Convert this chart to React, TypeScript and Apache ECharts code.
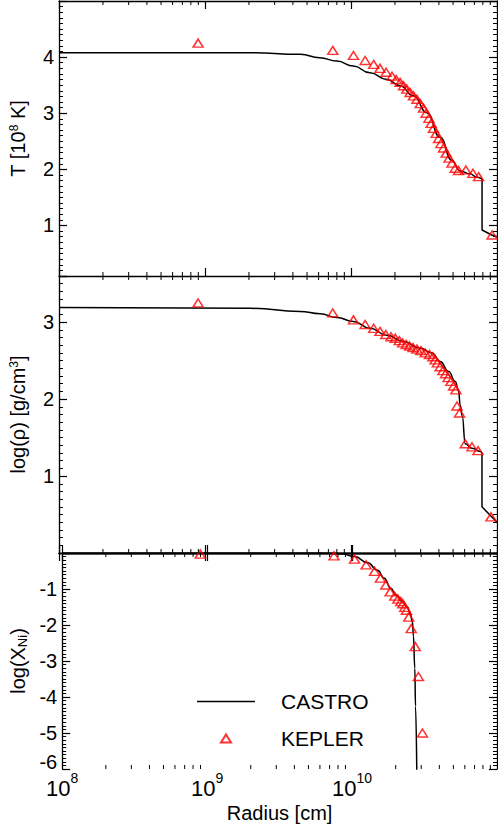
import React, { useEffect, useRef } from 'react';
import * as echarts from 'echarts';

// ---------- data ----------
// CASTRO temperature profile (10^8 K): smooth part, then the outer step
const castroTRadius = [1e8, 2.0e9, 4.5e9, 6.1e9, 8.0e9, 1.04e10, 1.35e10, 1.76e10, 2.17e10, 2.68e10, 3.31e10, 4.08e10, 4.91e10, 5.6e10, 6.5e10, 7.3e10, 7.9e10];
const castroT = [4.08, 4.08, 4.05, 3.99, 3.93, 3.84, 3.72, 3.6, 3.49, 3.31, 3.01, 2.57, 2.16, 1.97, 1.92, 1.86, 1.83];
const castroTStepRadius = [7.9e10, 7.9e10, 9.2e10, 1e11];
const castroTStep = [1.83, 0.92, 0.83, 0.8];

// KEPLER temperature points
const keplerTRadius = [8.97e8, 7.5e9, 1.04e10, 1.25e10, 1.43e10, 1.58e10, 1.74e10, 1.91e10, 2.04e10, 2.17e10, 2.29e10, 2.41e10, 2.54e10, 2.68e10, 2.83e10, 2.98e10, 3.14e10, 3.27e10, 3.42e10, 3.54e10, 3.67e10, 3.83e10, 3.98e10, 4.13e10, 4.3e10, 4.49e10, 4.69e10, 4.91e10, 5.17e10, 5.45e10, 6.12e10, 6.84e10, 7.48e10, 9.25e10];
const keplerT = [4.25, 4.12, 4.03, 3.94, 3.87, 3.8, 3.73, 3.66, 3.6, 3.55, 3.49, 3.43, 3.37, 3.31, 3.25, 3.17, 3.09, 3.0, 2.91, 2.82, 2.73, 2.64, 2.55, 2.46, 2.38, 2.29, 2.2, 2.11, 2.02, 1.98, 1.99, 1.93, 1.87, 0.83];

// CASTRO density profile log(rho): smooth part, then the outer step
const castroRhoRadius = [1e8, 2.03e9, 4.48e9, 6.14e9, 8.0e9, 1.04e10, 1.35e10, 1.76e10, 2.29e10, 2.98e10, 3.58e10, 4.08e10, 4.66e10, 5.18e10, 5.45e10, 5.6e10, 5.78e10, 6.06e10, 6.74e10, 7.69e10, 7.89e10];
const castroRho = [3.19, 3.18, 3.14, 3.11, 3.06, 3.01, 2.92, 2.83, 2.75, 2.66, 2.6, 2.49, 2.36, 2.23, 2.11, 1.92, 1.78, 1.42, 1.36, 1.32, 1.3];
const castroRhoStepRadius = [7.89e10, 7.89e10, 1e11];
const castroRhoStep = [1.3, 0.6, 0.4];

// KEPLER density points
const keplerRhoRadius = [8.97e8, 7.5e9, 1.04e10, 1.25e10, 1.43e10, 1.58e10, 1.73e10, 1.88e10, 2.01e10, 2.14e10, 2.26e10, 2.39e10, 2.52e10, 2.66e10, 2.83e10, 3.01e10, 3.22e10, 3.45e10, 3.64e10, 3.77e10, 3.91e10, 4.08e10, 4.26e10, 4.44e10, 4.63e10, 4.83e10, 5.04e10, 5.23e10, 5.32e10, 5.54e10, 6.06e10, 6.74e10, 7.41e10, 9.1e10];
const keplerRho = [3.25, 3.12, 3.03, 2.97, 2.92, 2.88, 2.84, 2.81, 2.79, 2.76, 2.73, 2.71, 2.69, 2.67, 2.65, 2.63, 2.6, 2.58, 2.55, 2.51, 2.47, 2.42, 2.37, 2.33, 2.28, 2.23, 2.17, 2.12, 1.91, 1.82, 1.42, 1.38, 1.33, 0.47];

// CASTRO Ni abundance log(X_Ni)
const castroNiRadius = [1e8, 6.14e9, 8.42e9, 1.04e10, 1.28e10, 1.5e10, 1.67e10, 1.85e10, 2.01e10, 2.23e10, 2.41e10, 2.52e10, 2.61e10, 2.65e10, 2.71e10, 2.74e10, 2.8e10];
const castroNi = [0, 0, -0.02, -0.1, -0.27, -0.48, -0.7, -0.98, -1.17, -1.35, -1.5, -1.68, -1.91, -2.3, -3.2, -4.26, -6.3];

// KEPLER Ni points
const keplerNiRadius = [8.97e8, 7.5e9, 1.04e10, 1.25e10, 1.43e10, 1.57e10, 1.71e10, 1.83e10, 1.97e10, 2.07e10, 2.17e10, 2.24e10, 2.31e10, 2.37e10, 2.46e10, 2.56e10, 2.73e10, 2.87e10, 3.06e10];
const keplerNi = [-0.03, -0.08, -0.17, -0.33, -0.51, -0.7, -0.89, -1.08, -1.2, -1.28, -1.35, -1.41, -1.51, -1.59, -1.78, -2.1, -2.6, -3.43, -5.0];

// axis ranges and tick values
const xRange = [1e8, 1e11];
const yRanges = [[0.1, 5], [0, 3.6], [-6, 0]];
const minorXTicks = [2e8, 3e8, 4e8, 5e8, 6e8, 7e8, 8e8, 9e8, 2e9, 3e9, 4e9, 5e9, 6e9, 7e9, 8e9, 9e9, 2e10, 3e10, 4e10, 5e10, 6e10, 7e10, 8e10, 9e10];
const yTitles = ['T [10{sup|8} K]', 'log(ρ) [g/cm{sup|3}]', 'log(X{sub|Ni})'];
const xTitle = 'Radius [cm]';
const legendNames = ['CASTRO', 'KEPLER'];

const FONT = 'Liberation Sans, Arial, Helvetica, sans-serif';

const zip = (a: number[], b: number[]) => a.map((v, i) => [v, b[i]]);

export default function App() {
  const ref = useRef<HTMLDivElement>(null);
  useEffect(() => {
    if (!ref.current) return;
    const chart = echarts.init(ref.current, null, { renderer: 'svg' });

    const grids = [
      { left: 59, top: 1, width: 438, height: 275 },
      { left: 59, top: 276, width: 438, height: 277 },
      { left: 59, top: 553, width: 438, height: 216 },
    ];

    const axisLine = { show: true, lineStyle: { color: '#000', width: 1.3 } };
    const xAxes: any[] = [];
    const yAxes: any[] = [];
    grids.forEach((g, i) => {
      const isBottom = i === 2;
      const baseX = {
        type: 'log',
        logBase: 10,
        min: xRange[0],
        max: xRange[1],
        gridIndex: i,
        axisLine,
        axisTick: { show: true, inside: true, length: 8, lineStyle: { color: '#000', width: 1.2 } },
        splitLine: { show: false },
        minorTick: { show: false },
        minorSplitLine: { show: false },
      };
      xAxes.push({
        ...baseX,
        position: 'bottom',
        name: isBottom ? xTitle : '',
        nameLocation: 'middle',
        nameGap: 34,
        nameTextStyle: { fontSize: 20, fontFamily: FONT, color: '#000' },
        axisLabel: isBottom
          ? {
              show: true,
              margin: 2,
              showMaxLabel: false,
              color: '#000',
              fontFamily: FONT,
              formatter: (v: number) => `{b|10}{sup|${Math.round(Math.log10(v))}}`,
              rich: {
                b: { fontSize: 22, fontFamily: FONT, color: '#000', padding: [6, 0, 0, 0], verticalAlign: 'bottom' },
                sup: { fontSize: 14, fontFamily: FONT, color: '#000', verticalAlign: 'top' },
              },
            }
          : { show: false },
      });
      xAxes.push({ ...baseX, position: 'top', axisLabel: { show: false } });

      const [ymin, ymax] = yRanges[i];
      const baseY: any = {
        type: 'value',
        gridIndex: i,
        min: ymin,
        max: ymax,
        axisLine,
        axisTick: { show: true, inside: true, length: 8, lineStyle: { color: '#000', width: 1.2 } },
        minorTick: { show: true, splitNumber: 10, length: 4, lineStyle: { color: '#000', width: 1 } },
        splitLine: { show: false },
        minorSplitLine: { show: false },
      };
      if (i !== 0) baseY.interval = 1;
      else baseY.splitNumber = 5;
      yAxes.push({
        ...baseY,
        position: 'left',
        name: yTitles[i],
        nameLocation: 'middle',
        nameGap: 31,
        nameTextStyle: {
          fontSize: 20,
          fontFamily: FONT,
          color: '#000',
          rich: {
            sup: { fontSize: 12, fontFamily: FONT, color: '#000', padding: [0, 0, 8, 0] },
            sub: { fontSize: 13, fontFamily: FONT, color: '#000', padding: [8, 0, 0, 0] },
          },
        },
        axisLabel: {
          show: true,
          margin: 5,
          showMinLabel: i === 2,
          showMaxLabel: false,
          fontSize: 20,
          fontFamily: FONT,
          color: '#000',
          formatter: (v: number) => (i === 2 && v === ymin ? `{up|${v}}` : String(v)),
          rich: { up: { fontSize: 20, fontFamily: FONT, color: '#000', padding: [0, 0, 14, 0] } },
        },
      });
      yAxes.push({ ...baseY, position: 'right', axisLabel: { show: false } });
    });

    const lineStyle = { color: '#000', width: 1.5 };
    const tri = {
      type: 'scatter',
      name: 'KEPLER',
      symbol: 'triangle',
      symbolSize: [10, 8],
      itemStyle: { color: 'rgba(0,0,0,0)', borderColor: '#ff0000', borderWidth: 1.5 },
      z: 4,
    };
    const smoothLine = {
      type: 'line',
      name: 'CASTRO',
      symbol: 'none',
      showSymbol: false,
      smooth: 0.5,
      smoothMonotone: 'x',
      lineStyle,
      itemStyle: { color: '#000' },
      z: 3,
    };
    const stepLine = { ...smoothLine, smooth: false };

    const minorTickSeries = grids.map((_, i) => ({
      type: 'custom',
      xAxisIndex: 2 * i,
      yAxisIndex: 2 * i,
      silent: true,
      clip: false,
      z: 5,
      data: minorXTicks.map((r) => [r, (yRanges[i][0] + yRanges[i][1]) / 2]),
      renderItem: (params: any, api: any) => {
        const p = api.coord([api.value(0), api.value(1)]);
        const cs = params.coordSys;
        const len = 4;
        const st = { stroke: '#000', lineWidth: 1 };
        return {
          type: 'group',
          children: [
            { type: 'line', shape: { x1: p[0], y1: cs.y + cs.height, x2: p[0], y2: cs.y + cs.height - len }, style: st },
            { type: 'line', shape: { x1: p[0], y1: cs.y, x2: p[0], y2: cs.y + len }, style: st },
          ],
        };
      },
    }));

    const option: any = {
      animation: false,
      backgroundColor: '#fff',
      grid: grids.map((g) => ({ ...g, containLabel: false })),
      xAxis: xAxes,
      yAxis: yAxes,
      legend: {
        orient: 'vertical',
        left: 192,
        top: 686,
        itemWidth: 58,
        itemHeight: 8,
        itemGap: 16,
        symbolKeepAspect: true,
        selectedMode: false,
        data: [
          { name: legendNames[0], icon: 'path://M0,0 L58,0 L58,1.6 L0,1.6 Z' },
          { name: legendNames[1], icon: 'path://M5,0 L10,8 L0,8 Z' },
        ],
        textStyle: { fontSize: 21, fontFamily: FONT, color: '#000', padding: [0, 0, 8, 21] },
      },
      series: [
        { ...smoothLine, xAxisIndex: 0, yAxisIndex: 0, data: zip(castroTRadius, castroT) },
        { ...stepLine, xAxisIndex: 0, yAxisIndex: 0, data: zip(castroTStepRadius, castroTStep) },
        { ...tri, xAxisIndex: 0, yAxisIndex: 0, data: zip(keplerTRadius, keplerT) },
        { ...smoothLine, xAxisIndex: 2, yAxisIndex: 2, data: zip(castroRhoRadius, castroRho) },
        { ...stepLine, xAxisIndex: 2, yAxisIndex: 2, data: zip(castroRhoStepRadius, castroRhoStep) },
        { ...tri, xAxisIndex: 2, yAxisIndex: 2, data: zip(keplerRhoRadius, keplerRho) },
        { ...smoothLine, xAxisIndex: 4, yAxisIndex: 4, data: zip(castroNiRadius, castroNi) },
        { ...tri, xAxisIndex: 4, yAxisIndex: 4, data: zip(keplerNiRadius, keplerNi) },
        ...minorTickSeries,
      ],
    };
    chart.setOption(option);
    return () => chart.dispose();
  }, []);
  return <div ref={ref} style={{ position: 'absolute', left: 0, top: 0, width: 498, height: 830 }} />;
}
